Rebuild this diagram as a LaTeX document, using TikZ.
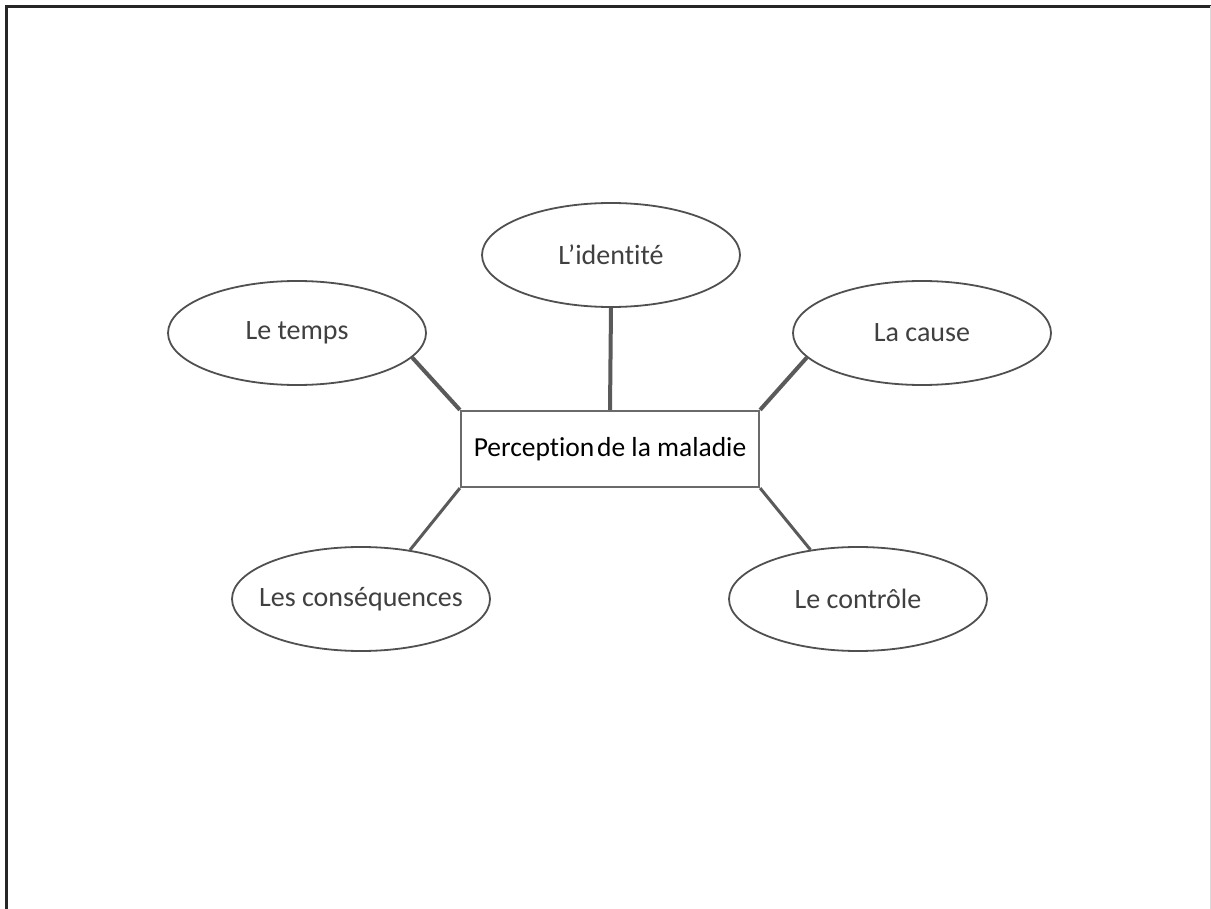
\documentclass[tikz,border=0pt]{standalone}
\usepackage{fontspec}
\setmainfont[Ligatures=NoCommon]{Carlito}
\usetikzlibrary{shapes.geometric}
\definecolor{edgegray}{HTML}{505050}
\definecolor{txtgray}{HTML}{404040}
\definecolor{linkgray}{HTML}{5A5A5A}
\tikzset{
  idea/.style={ellipse, draw=edgegray, line width=1.8pt, fill=white, inner sep=0pt,
    minimum width=258pt, minimum height=104pt, text=txtgray,
    font=\fontsize{28}{34}\selectfont},
  centre/.style={rectangle, draw=edgegray!85, line width=2.2pt, fill=white, inner sep=0pt,
    minimum width=298pt, minimum height=76pt, text=black,
    font=\fontsize{27.5}{33}\selectfont},
  uplink/.style={draw=linkgray, line width=4pt},
  lowlink/.style={draw=linkgray, line width=3pt}
}
\begin{document}
\begin{tikzpicture}[x=1pt,y=-1pt]
\useasboundingbox (0,0) rectangle (1211,909);
\fill[white] (0,0) rectangle (1211,909);
\draw[line width=3pt, black!85] (6.5,909) -- (6.5,6.5) -- (1211,6.5);
\draw[line width=1pt, gray!30] (1210.5,6.5) -- (1210.5,909);

\node[centre] (rect) at (610,449) {Perception\hspace{0.1em}de la maladie};
\node[idea] (ident) at (611,255) {\makebox[0pt]{L’identité}};
\node[idea] (temps) at (297,333) {\makebox[0pt]{Le temps}};
\node[idea] (cause) at (922,333) {\makebox[0pt]{La cause}};
\node[idea] (cons) at (361,599) {\makebox[0pt]{Les conséquences}};
\node[idea] (ctrl) at (858,599) {\makebox[0pt]{Le contrôle}};

\draw[uplink] (rect.north) -- (ident.south);
\draw[uplink] (rect.north west) -- (temps.-12);
\draw[uplink] (rect.north east) -- (cause.192);
\draw[lowlink] (rect.south west) -- (cons.45);
\draw[lowlink] (rect.south east) -- (ctrl.134);
\end{tikzpicture}
\end{document}
